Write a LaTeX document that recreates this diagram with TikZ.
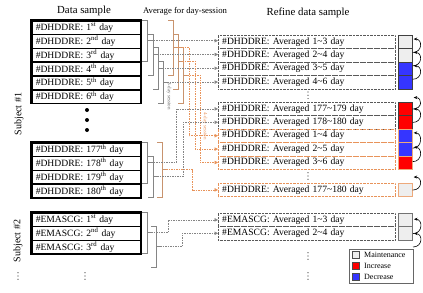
\documentclass[tikz,border=0pt]{standalone}
\usepackage{fontspec}
\setmainfont{Liberation Serif}
\usetikzlibrary{arrows.meta,calc}
\definecolor{org}{HTML}{E8935A}
\definecolor{obrk}{HTML}{C8936E}
\definecolor{gbrk}{HTML}{858585}
\definecolor{mgray}{HTML}{EEEEEE}
\definecolor{incr}{HTML}{FF0000}
\definecolor{decr}{HTML}{3535FF}
\newcommand\mybrk[5]{%
  \draw[#1] ({#2-5},#3) -- (#2,#3) -- (#2,#4) -- ({#2-5},#4);
  \draw[#1] (#2,{(#3+#4)/2}) -- ({#2+4},{(#3+#4)/2}) coordinate (#5);
}
\newcommand\vdotsat[2]{%
  \fill[black!80] (#1,{#2-3.3}) circle (0.6) (#1,#2) circle (0.6) (#1,{#2+3.3}) circle (0.6);
}
\tikzset{
  lrow/.style={draw, line width=1.5pt, minimum height=13.8pt, text width=101pt,
    inner xsep=4pt, inner ysep=0pt, align=left, anchor=north west,
    font=\fontsize{9.6}{10}\selectfont},
  rrow/.style={draw=black!65, densely dotted, minimum height=13.4pt, text width=169pt,
    inner xsep=4pt, inner ysep=0pt, align=left, anchor=north west,
    font=\fontsize{9.6}{10}\selectfont},
  orow/.style={rrow, draw=org},
  sq/.style={draw=black!75, line width=0.7pt, minimum width=14pt, minimum height=13.4pt,
    inner sep=0pt, anchor=north west},
  osq/.style={sq, draw=org!80},
  gbr/.style={gbrk, line width=0.6pt},
  obr/.style={obrk, line width=0.6pt},
  gline/.style={gbrk, line width=0.5pt, dash pattern=on 1.5pt off 1pt,
    -{Triangle[length=3.5pt,width=3.5pt]}},
  oline/.style={org, line width=0.5pt, dash pattern=on 1.5pt off 1pt,
    -{Triangle[length=3.5pt,width=3.5pt]}},
  carr/.style={black, line width=0.6pt, -{Stealth[length=3.5pt,width=3pt]}},
  title/.style={font=\fontsize{10.8}{12}\selectfont},
  lsq/.style={draw=black!70, minimum width=7pt, minimum height=7pt, inner sep=0pt},
  ltxt/.style={anchor=west, font=\fontsize{8}{9}\selectfont, inner sep=0pt},
}
\begin{document}
\begin{tikzpicture}[x=1pt,y=-1pt]
\useasboundingbox (0,0) rectangle (423,292);
% titles
\node[title] (t1) at (84,11) {Data sample};
\node[font=\fontsize{8.7}{9}\selectfont] (t2) at (185,11) {Average for day-session};
\node[title] (t3) at (308,12.5) {Refine data sample};
% subject labels
\node[rotate=90, font=\fontsize{10}{11}\selectfont] (sub1) at (19,114) {Subject \#1};
\node[rotate=90, font=\fontsize{10}{11}\selectfont] (sub2) at (18,241) {Subject \#2};
\vdotsat{18}{276}
\vdotsat{85}{276}
% left group 1
\draw[line width=1pt] (30,19) rectangle (141,103.8);
\node[lrow] (d1) at (31,20) {\#DHDDRE: 1\textsuperscript{st} day};
\node[lrow] (d2) at (31,33.8) {\#DHDDRE: 2\textsuperscript{nd} day};
\node[lrow] (d3) at (31,47.6) {\#DHDDRE: 3\textsuperscript{rd} day};
\node[lrow] (d4) at (31,61.4) {\#DHDDRE: 4\textsuperscript{th} day};
\node[lrow] (d5) at (31,75.2) {\#DHDDRE: 5\textsuperscript{th} day};
\node[lrow] (d6) at (31,89) {\#DHDDRE: 6\textsuperscript{th} day};
\fill (87,110) circle (2) (87,120) circle (2) (87,130) circle (2);
% left group 2
\draw[line width=1pt] (30,141) rectangle (141,198.2);
\node[lrow] (d177) at (31,142) {\#DHDDRE: 177\textsuperscript{th} day};
\node[lrow] (d178) at (31,155.8) {\#DHDDRE: 178\textsuperscript{th} day};
\node[lrow] (d179) at (31,169.6) {\#DHDDRE: 179\textsuperscript{th} day};
\node[lrow] (d180) at (31,183.4) {\#DHDDRE: 180\textsuperscript{th} day};
% left group 3
\draw[line width=1pt] (30,211) rectangle (141,254.4);
\node[lrow] (e1) at (31,212) {\#EMASCG: 1\textsuperscript{st} day};
\node[lrow] (e2) at (31,225.8) {\#EMASCG: 2\textsuperscript{nd} day};
\node[lrow] (e3) at (31,239.6) {\#EMASCG: 3\textsuperscript{rd} day};
% right rows
\node[rrow] (a1) at (218,35) {\#DHDDRE: Averaged 1\textasciitilde3 day};
\node[rrow] (a2) at (218,48.4) {\#DHDDRE: Averaged 2\textasciitilde4 day};
\node[rrow] (a3) at (218,61.8) {\#DHDDRE: Averaged 3\textasciitilde5 day};
\node[rrow] (a4) at (218,75.2) {\#DHDDRE: Averaged 4\textasciitilde6 day};
\vdotsat{308}{95.3}
\node[rrow] (a177) at (218,102) {\#DHDDRE: Averaged 177\textasciitilde179 day};
\node[rrow] (a178) at (218,115.4) {\#DHDDRE: Averaged 178\textasciitilde180 day};
\node[orow] (b1) at (218,128.8) {\#DHDDRE: Averaged 1\textasciitilde4 day};
\node[orow] (b2) at (218,142.2) {\#DHDDRE: Averaged 2\textasciitilde5 day};
\node[orow] (b3) at (218,155.6) {\#DHDDRE: Averaged 3\textasciitilde6 day};
\vdotsat{308}{176}
\node[orow] (b177) at (218,183) {\#DHDDRE: Averaged 177\textasciitilde180 day};
\node[rrow] (c1) at (218,213) {\#EMASCG: Averaged 1\textasciitilde3 day};
\node[rrow] (c2) at (218,226.4) {\#EMASCG: Averaged 2\textasciitilde4 day};
\vdotsat{308}{256}
\vdotsat{308}{276}
% squares
\node[sq, fill=mgray] (s1) at (398,35) {};
\node[sq, fill=mgray] (s2) at (398,48.4) {};
\node[sq, fill=decr] (s3) at (398,61.8) {};
\node[sq, fill=decr] (s4) at (398,75.2) {};
\node[sq, fill=incr] (s177) at (398,102) {};
\node[sq, fill=incr] (s178) at (398,115.4) {};
\node[osq, fill=decr] (q1) at (398,128.8) {};
\node[osq, fill=decr] (q2) at (398,142.2) {};
\node[osq, fill=incr] (q3) at (398,155.6) {};
\node[osq, fill=mgray] (q177) at (398,183) {};
\node[sq, fill=mgray, draw=black!55, line width=1pt] (u1) at (398,213) {};
\node[sq, fill=mgray, draw=black!55, line width=1pt] (u2) at (398,226.4) {};
% curved arrows
\coordinate (p0) at ($(s177.east)+(0,-11.5)$);
\coordinate (p1) at ($(q177.east)+(0,-13)$);
\coordinate (p2) at ($(u2.east)+(0,13.4)$);
\draw[carr] ($(s2.east)+(0,-3)$) .. controls +(10,0) and +(9,0) .. ($(s1.east)+(1,-3)$);
\draw[carr] ($(s3.east)+(0,-3)$) .. controls +(10,0) and +(9,0) .. ($(s2.east)+(1,-3)$);
\draw[carr] ($(s4.east)+(0,-3)$) .. controls +(10,0) and +(9,0) .. ($(s3.east)+(1,-3)$);
\draw[carr] ($(s177.east)+(0,0)$) .. controls +(10,0) and +(9,0) .. ($(p0)+(1,0)$);
\draw[carr] ($(s178.east)+(0,0)$) .. controls +(10,0) and +(9,0) .. ($(s177.east)+(1,0)$);
\draw[carr] ($(q2.east)+(0,-1)$) .. controls +(10,0) and +(9,0) .. ($(q1.east)+(1,-3)$);
\draw[carr] ($(q3.east)+(0,-1)$) .. controls +(10,0) and +(9,0) .. ($(q2.east)+(1,-2)$);
\draw[carr] ($(q177.east)+(0,0)$) .. controls +(10,0) and +(9,0) .. ($(p1)+(1,0)$);
\draw[carr] ($(u2.east)+(0,0)$) .. controls +(10,0) and +(9,0) .. ($(u1.east)+(1,-1)$);
\draw[carr] ($(p2)+(0,0)$) .. controls +(10,0) and +(9,0) .. ($(u2.east)+(1,0)$);
% brackets group 1
\mybrk{gbr}{147}{20}{61.4}{k1}
\mybrk{gbr}{153}{33.8}{75.2}{k2}
\mybrk{gbr}{158}{47.6}{89}{k3}
\mybrk{gbr}{163}{61.4}{102.8}{k4}
\mybrk{obr}{173}{20}{75.2}{m1}
\mybrk{obr}{178}{33.8}{89}{m2}
\mybrk{obr}{183}{47.6}{102.8}{m3}
% brackets group 2
\mybrk{gbr}{147}{142}{183.4}{k177}
\mybrk{gbr}{153}{155.8}{197.2}{k178}
\mybrk{obr}{162}{142}{197.2}{m177}
% brackets group 3
\mybrk{gbr}{147}{212}{253.4}{n1}
\mybrk{gbr}{156}{225.8}{267.2}{n2}
% session labels
\node[rotate=-90, font=\fontsize{5}{5}\selectfont, text=black!60, inner sep=0pt] (ses3) at (169,96) {3-day session};
\node[rotate=-90, font=\fontsize{5}{5}\selectfont, text=org, inner sep=0pt] (ses4) at (205,126) {4-day session};
% connectors group 1
\draw[gline] (k1) -- (k1 -| a1.west);
\draw[gline] (k2) -- (k2 -| a2.west);
\draw[gline] (k3) -- (k3 -| a3.west);
\draw[gline] (k4) -- (k4 -| a4.west);
\coordinate (v1) at (189,0);
\coordinate (v2) at (195,0);
\coordinate (v3) at (200,0);
\draw[oline] (m1) -| (v1 |- b1.west) -- (b1.west);
\draw[oline] (m2) -| (v2 |- b2.west) -- (b2.west);
\draw[oline] (m3) -| (v3 |- b3.west) -- (b3.west);
% connectors group 2
\coordinate (w1) at (176,0);
\coordinate (w2) at (183,0);
\coordinate (w3) at (192,0);
\draw[gline] (k177) -| (w1 |- a177.west) -- (a177.west);
\draw[gline] (k178) -| (w2 |- a178.west) -- (a178.west);
\draw[oline] (m177) -| (w3 |- b177.west) -- (b177.west);
% connectors group 3
\coordinate (x1) at (168,0);
\coordinate (x2) at (182,0);
\draw[gline] (n1) -| (x1 |- c1.west) -- (c1.west);
\draw[gline] (n2) -| (x2 |- c2.west) -- (c2.west);
% legend
\node[draw=black!60, minimum width=64pt, minimum height=34pt, anchor=north west, inner sep=0pt] (leg) at (349,249) {};
\node[lsq, fill=mgray] (l1) at (355.5,255) {};
\node[lsq, fill=incr] (l2) at (355.5,266) {};
\node[lsq, fill=decr] (l3) at (355.5,277) {};
\node[ltxt] (lt1) at (364,255) {Maintenance};
\node[ltxt] (lt2) at (364,266) {Increase};
\node[ltxt] (lt3) at (364,277) {Decrease};
\end{tikzpicture}
\end{document}
